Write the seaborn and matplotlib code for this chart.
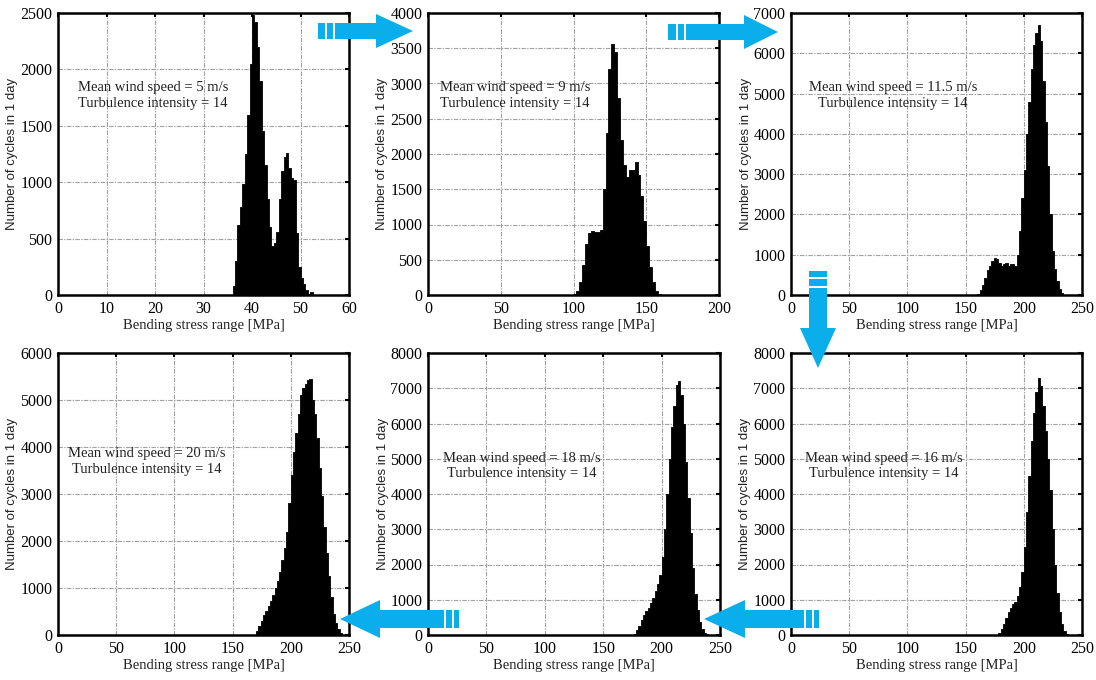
import numpy as np
import pandas as pd
import matplotlib
matplotlib.use("Agg")
import matplotlib.pyplot as plt
from matplotlib.patches import Polygon, Rectangle
import seaborn as sns

# ---------------- data ----------------
# Panel 1: mean wind speed 5 m/s, bins of 0.5 MPa starting at 36.0
p1_start, p1_width = 36.0, 0.5
p1_counts = [80, 300, 620, 780, 980, 1250, 1600, 2050, 2480, 2420, 2200, 1900,
             1450, 1150, 850, 600, 430, 460, 560, 850, 1100, 1220, 1260, 1130,
             1040, 1020, 550, 250, 150, 100, 45, 10, 30]

# Panel 2: 9 m/s, bins of 2 MPa starting at 100
p2_start, p2_width = 100.0, 2.0
p2_counts = [10, 60, 180, 420, 720, 880, 910, 900, 900, 920, 1500, 2300, 3200,
             3560, 3450, 2800, 2200, 1850, 1680, 1780, 1780, 1880, 1700, 1400,
             1050, 700, 400, 180, 60, 20]

# Panel 3: 11.5 m/s
p3_start, p3_width = 160.0, 2.0
p3_counts = [30, 120, 250, 420, 620, 720, 850, 920, 900, 800, 720, 760, 790, 720,
             760, 780, 720, 1000, 1600, 2400, 3100, 4000, 4800, 5600, 6200, 6500,
             6700, 6300, 5300, 4300, 3200, 2000, 1100, 650, 350, 150, 50]

# Panel 4: 20 m/s
p4_start, p4_width = 170.0, 2.0
p4_counts = [80, 200, 300, 420, 520, 620, 720, 850, 1000, 1150, 1350, 1600, 1850,
             2200, 2800, 3400, 3900, 4300, 4700, 5100, 5250, 5350, 5420, 5450,
             5000, 4700, 4200, 3550, 2950, 2300, 1750, 1250, 800, 450, 250, 120, 50]

# Panel 5: 18 m/s
p5_start, p5_width = 176.0, 2.0
p5_counts = [40, 130, 260, 420, 560, 680, 780, 900, 1050, 1250, 1450, 1700, 2200,
             3000, 4000, 5000, 5900, 6500, 7100, 7200, 6800, 6000, 4900, 3900,
             2900, 1900, 1150, 700, 380, 180, 70, 20]

# Panel 6: 16 m/s
p6_start, p6_width = 178.0, 2.0
p6_counts = [60, 170, 300, 480, 650, 780, 880, 950, 1100, 1350, 1800, 2500, 3500,
             4500, 5500, 6300, 6900, 7280, 7050, 6500, 5800, 5000, 4100, 3000,
             2000, 1200, 650, 300, 120, 40]

wind_speeds = ["5", "9", "11.5", "20", "18", "16"]
turbulence = "14"
x_max = [60, 200, 250, 250, 250, 250]
x_step = [10, 50, 50, 50, 50, 50]
y_max = [2500, 4000, 7000, 6000, 8000, 8000]
y_step = [500, 500, 1000, 1000, 1000, 1000]

xlabel = "Bending stress range [MPa]"
ylabel = "Number of cycles in 1 day"

panels = [(p1_start, p1_width, p1_counts), (p2_start, p2_width, p2_counts),
          (p3_start, p3_width, p3_counts), (p4_start, p4_width, p4_counts),
          (p5_start, p5_width, p5_counts), (p6_start, p6_width, p6_counts)]

# ---------------- layout / style ----------------
W, H = 1096, 680
sns.set_theme(style="white")
plt.rcParams["font.family"] = ["Liberation Serif", "DejaVu Serif"]
plt.rcParams["mathtext.fontset"] = "stix"

fig = plt.figure(figsize=(W / 100, H / 100), dpi=100)
fig.patch.set_facecolor("white")

# axes boxes in pixels: (left, top, right, bottom)
boxes = [(58, 13, 349, 295), (428, 13, 719, 295), (791, 13, 1082, 295),
         (58, 353, 349, 635), (428, 353, 720, 635), (791, 353, 1082, 635)]
text_pos = [(0.069, 0.707, "left"), (0.041, 0.707, "left"), (0.35, 0.707, "center"),
            (0.306, 0.615, "center"), (0.322, 0.60, "center"), (0.32, 0.60, "center")]
ylab_x = [-0.137, -0.137, -0.134, -0.137, -0.134, -0.137]

for i, (box, (start, width, counts)) in enumerate(zip(boxes, panels)):
    l, t, r, b = box
    ax = fig.add_axes([l / W, 1 - b / H, (r - l) / W, (b - t) / H])
    n = len(counts)
    centers = start + width * (np.arange(n) + 0.5)
    df = pd.DataFrame({"stress": centers, "cycles": np.asarray(counts, dtype=float)})
    sns.histplot(data=df, x="stress", weights="cycles", binwidth=width,
                 binrange=(start, start + n * width), ax=ax,
                 element="step", fill=True, color="black", alpha=1.0,
                 linewidth=0.6, edgecolor="black", zorder=3)
    ax.set_xlim(0, x_max[i])
    ax.set_ylim(0, y_max[i])
    ax.set_xticks(np.arange(0, x_max[i] + 1, x_step[i]))
    ax.set_yticks(np.arange(0, y_max[i] + 1, y_step[i]))
    ax.grid(True, color="#a0a0a0", linestyle=(0, (4, 1.2, 1.2, 1.2)), linewidth=0.8)
    ax.set_axisbelow(True)
    for sp in ax.spines.values():
        sp.set_visible(True)
        sp.set_color("black")
        sp.set_linewidth(1.8)
    ax.tick_params(direction="in", top=True, right=True, length=3, width=1.5,
                   labelsize=11.5, colors="black", pad=4)
    ax.set_xlabel(xlabel, fontsize=10.5, color="#222222", labelpad=2)
    ax.set_ylabel(ylabel, fontsize=9.5, family=["Liberation Sans", "DejaVu Sans"],
                  color="#222222")
    ax.yaxis.set_label_coords(ylab_x[i], 0.5)
    tx, ty, ha = text_pos[i]
    ax.text(tx, ty, f"Mean wind speed = {wind_speeds[i]} m/s\nTurbulence intensity = {turbulence}",
            transform=ax.transAxes, ha=ha, va="center", fontsize=10.5,
            color="#222222", linespacing=1.25, zorder=5)

# ---------------- cyan block arrows (decoration, pixel coords) ----------------
CY = "#0aaeea"


def P(x, y):
    return (x / W, 1 - y / H)


def h_arrow(x_tail, x_base, x_tip, cy, bh, hh, stripes):
    pts = [P(x_tail, cy - bh), P(x_base, cy - bh), P(x_base, cy - hh), P(x_tip, cy),
           P(x_base, cy + hh), P(x_base, cy + bh), P(x_tail, cy + bh)]
    fig.patches.append(Polygon(pts, closed=True, transform=fig.transFigure,
                               facecolor=CY, edgecolor="none", zorder=10))
    for sx in stripes:
        fig.patches.append(Rectangle(P(sx, cy + bh + 0.5), 1.8 / W, (2 * bh + 1) / H,
                                     transform=fig.transFigure, facecolor="white",
                                     edgecolor="none", zorder=11))


def v_arrow(y_tail, y_base, y_tip, cx, bw, hw, stripes):
    pts = [P(cx - bw, y_tail), P(cx - bw, y_base), P(cx - hw, y_base), P(cx, y_tip),
           P(cx + hw, y_base), P(cx + bw, y_base), P(cx + bw, y_tail)]
    fig.patches.append(Polygon(pts, closed=True, transform=fig.transFigure,
                               facecolor=CY, edgecolor="none", zorder=10))
    for sy in stripes:
        fig.patches.append(Rectangle(P(cx - bw - 0.5, sy + 1.8), (2 * bw + 1) / W, 1.8 / H,
                                     transform=fig.transFigure, facecolor="white",
                                     edgecolor="none", zorder=11))


h_arrow(318, 376, 413, 31, 8, 17, [325, 333])
h_arrow(668, 744, 778, 32, 8, 17, [676, 684])
v_arrow(271, 328, 368, 818, 9, 18, [277, 286])
h_arrow(819, 745, 704, 619, 9, 19, [804, 812])
h_arrow(459, 380, 340, 619, 9, 19, [444, 452])

fig.savefig("out.png", dpi=100, facecolor="white")
